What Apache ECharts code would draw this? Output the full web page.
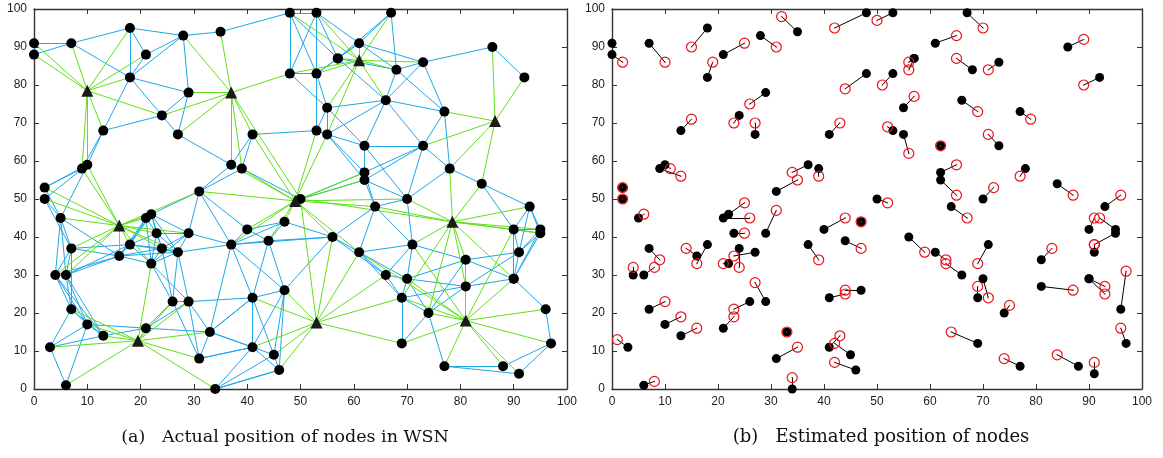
<!DOCTYPE html>
<html><head><meta charset="utf-8">
<script src="https://cdn.jsdelivr.net/npm/echarts@6/dist/echarts.min.js"></script>
<style>html,body{margin:0;padding:0;background:#fff}#c{width:1163px;height:458px}</style>
</head><body><div id="c"></div>
<script>
// Unknown (non-anchor) nodes, actual positions
const nodes = [
 [0,91],[0,88],[7,91],[18,95],[21,88],[18,82],[28,93],[35,94],[29,78],[24,72],
 [13,68],[27,67],[41,67],[9,58],[10,59],[37,59],[39,58],[2,53],[2,50],[31,52],
 [48,99],[53,99],[67,99],[61,91],[57,87],[68,84],[73,86],[86,90],[92,82],[48,83],
 [53,83],[55,74],[66,76],[77,73],[53,68],[55,67],[62,64],[73,64],[62,57],[62,55],
 [78,58],[84,54],[70,50],[64,48],[93,48],[50,50],[5,45],[21,45],[22,46],[23,41],
 [29,41],[18,38],[24,37],[27,36],[7,37],[16,35],[22,33],[4,30],[6,30],[7,21],
 [26,23],[29,23],[10,17],[21,16],[13,14],[33,15],[3,11],[6,1],[31,8],[34,0],
 [37,38],[40,42],[44,39],[47,44],[41,24],[47,26],[41,11],[45,9],[46,5],[90,42],
 [95,42],[95,41],[56,40],[71,38],[61,36],[91,36],[81,34],[66,30],[70,29],[90,29],
 [81,27],[69,24],[96,21],[74,20],[97,12],[69,12],[77,6],[88,6],[91,4],[57,87],
 [90,29]
];
// Estimated positions (same order as nodes; null = not shown)
const estimates = [
 null,[2,86],[10,86],[15,90],[25,91],[19,86],[31,90],[32,98],[26,75],[23,70],
 [15,71],[27,70],[43,70],[13,56],[11,58],[34,57],[39,56],[2,53],[2,50],[35,55],
 [42,95],[50,97],[70,95],[65,93],[56,86],[65,87],[71,84],[89,92],[89,80],[44,79],
 [51,80],[57,77],[69,73],[79,71],[52,69],[56,62],[62,64],[71,67],[65,59],[65,51],
 [77,56],[87,51],[72,53],[67,45],[96,51],[52,49],[6,46],[26,45],[25,49],[25,41],
 [31,47],[16,33],[24,32],[23,35],[9,34],[14,37],[21,33],[4,32],[8,32],[10,23],
 [23,21],[27,28],[13,19],[23,19],[16,16],[33,15],[1,13],[8,2],[35,11],[34,3],
 [39,34],[44,45],[47,37],[47,44],[44,25],[44,26],[43,14],[42,12],[42,7],[91,45],
 [92,45],[91,38],[59,36],[69,33],[63,34],[91,38],[83,37],[63,33],[71,24],[93,27],
 [87,26],[69,27],[97,31],[75,22],[96,16],[64,15],[74,8],[84,9],[91,7],[56,84],
 [93,25]
];
// Anchor nodes
const anchors = [[10,78.5],[37,78],[61,86.5],[86.5,70.5],[49,49.5],[16,43],[78.5,44],[19.5,12.7],[53,17.5],[81,18]];
// Node-node links (indices into nodes)
const blueEdges = [
 [0,1],[0,2],[1,2],[2,3],[2,5],[3,5],[3,4],[4,5],[4,6],[5,6],[3,6],[6,7],[6,8],[5,8],[5,9],[5,10],[8,9],[8,11],[9,10],[9,11],
 [10,13],[10,14],[11,15],[13,17],[14,17],[14,18],[13,14],[12,15],[12,16],[12,34],[15,16],[15,19],[16,19],[7,20],
 [20,21],[20,29],[20,30],[21,29],[21,30],[29,30],[21,23],[21,24],[20,24],[22,23],[22,24],[22,25],[23,24],[23,25],[23,26],[23,30],
 [24,30],[24,25],[29,31],[30,31],[30,34],[31,32],[31,35],[31,34],[31,36],[34,35],[35,36],[35,38],[35,39],[35,32],[36,38],[36,37],
 [32,36],[32,33],[32,37],[32,25],[32,26],[32,24],[25,26],[25,33],[26,27],[26,33],[27,28],[33,37],[33,40],[37,38],[37,39],[37,40],
 [37,42],[36,42],[38,39],[38,45],[39,45],[38,43],[39,43],[39,42],[40,41],[40,42],[41,44],[42,43],[16,45],
 [41,79],[44,79],[44,80],[44,81],[44,85],[79,80],[79,81],[79,89],[79,85],[80,85],[81,85],[81,89],[80,89],[85,89],[85,86],[89,86],
 [89,90],[89,92],[92,94],[94,98],[94,97],[97,96],[98,96],[96,93],[95,93],[95,91],[93,91],[93,88],[93,86],[93,90],[83,86],[83,88],
 [83,87],[83,84],[42,83],[86,88],[90,91],[90,88],[90,85],[87,91],[87,88],[88,91],[84,87],[84,91],[84,88],[84,43],[82,43],[82,84],
 [82,87],[43,83],
 [17,46],[18,46],[14,46],[18,54],[46,54],[46,57],[46,58],[46,55],[54,51],[54,55],[54,58],[54,57],[54,59],[57,58],[57,55],[58,55],
 [58,51],[57,59],[57,62],[58,62],[58,59],[57,64],[58,64],[59,62],[59,66],[59,64],[62,63],[62,64],[62,66],[62,67],[63,65],[66,64],
 [66,67],[64,63],[63,60],[63,61],[60,61],[60,56],[60,53],[60,52],[60,68],[61,53],[61,68],[61,65],[61,74],[61,56],[65,68],[65,76],
 [65,70],[65,74],[68,76],[69,76],[69,78],[69,77],
 [55,51],[55,56],[55,52],[55,47],[55,48],[55,53],[51,47],[51,48],[51,49],[51,52],[51,56],[51,53],[47,48],[47,49],[47,56],[48,49],
 [48,50],[48,53],[48,52],[48,19],[49,50],[49,52],[49,53],[49,56],[50,53],[50,52],[50,56],[50,70],[50,19],[52,53],[52,56],[53,56],
 [53,70],[19,70],[19,71],
 [70,71],[70,72],[70,82],[70,73],[70,74],[70,75],[71,73],[71,72],[72,73],[72,74],[72,75],[72,82],[73,82],[75,74],[75,82],[75,78],
 [75,77],[75,76],[74,76],[74,77],[74,65],[76,77],[76,78],[76,65],[76,68],[77,78],[78,69]
];
// Anchor-node links: one list of node indices per anchor
const greenLinks = [
 [0,1,2,3,4,5,9,10,13,14],
 [6,7,8,9,11,15,16,29,12,45],
 [20,21,22,23,24,25,26,29,30,32,31,35],
 [27,28,33,37,40,41],
 [45,15,16,12,34,35,38,39,43,42,73,71,72,70,82,84,19],
 [17,18,46,54,57,58,55,51,47,48,49,52,53,50,19,13,14,56],
 [43,44,79,80,81,83,86,90,89,93,91,40,41,42,45],
 [59,62,64,66,67,63,56,60,61,65,68,69],
 [75,74,76,77,78,84,87,91,95,82,45],
 [91,95,96,97,98,94,92,89,90,93,83,88,84,86,79]
];

const chart = echarts.init(document.getElementById('c'), null, {renderer:'canvas'});

function ax(g, pos, label){
  return {gridIndex:g, type:'value', min:0, max:100, interval:10, position:pos,
    axisLine:{show:true, onZero:false, lineStyle:{color:'#333', width:1.4}},
    axisTick:{show:true, inside:true, length:5, lineStyle:{color:'#333', width:1}},
    axisLabel:{show:label, color:'#222', fontSize:12, margin:7, fontFamily:'Liberation Sans, Arial, sans-serif'},
    splitLine:{show:false}};
}

const blueData = blueEdges.map(([a,b]) => ({coords:[nodes[a], nodes[b]]}));
const greenData = [];
greenLinks.forEach((list, ai) => list.forEach(n => greenData.push({coords:[anchors[ai], nodes[n]]})));
const estLines = [];
const estPts = [];
nodes.forEach((p, i) => {
  const e = estimates[i];
  if (!e) return;
  estPts.push(e);
  if (e[0] !== p[0] || e[1] !== p[1]) estLines.push({coords:[p, e]});
});

chart.setOption({
  animation:false,
  backgroundColor:'#fff',
  grid:[
    {left:34, right:596, top:9, bottom:69},
    {left:612, right:21, top:9, bottom:69}
  ],
  xAxis:[ax(0,'bottom',true), ax(0,'top',false), ax(1,'bottom',true), ax(1,'top',false)],
  yAxis:[ax(0,'left',true), ax(0,'right',false), ax(1,'left',true), ax(1,'right',false)],
  graphic:[
    {type:'text', x:285, y:437, style:{text:'(a)   Actual position of nodes in WSN', font:'17.5px "DejaVu Serif", serif', fill:'#111', textAlign:'center', textVerticalAlign:'middle'}},
    {type:'text', x:881, y:437, style:{text:'(b)   Estimated position of nodes', font:'18px "DejaVu Serif", serif', fill:'#111', textAlign:'center', textVerticalAlign:'middle'}}
  ],
  series:[
    {type:'lines', coordinateSystem:'cartesian2d', xAxisIndex:0, yAxisIndex:0, data:blueData, silent:true,
     lineStyle:{color:'#1ea8e8', width:1, opacity:1}, z:1},
    {type:'lines', coordinateSystem:'cartesian2d', xAxisIndex:0, yAxisIndex:0, data:greenData, silent:true,
     lineStyle:{color:'#5fe01a', width:1, opacity:1}, z:2},
    {type:'scatter', xAxisIndex:0, yAxisIndex:0, data:nodes, symbol:'circle', symbolSize:10, clip:false, silent:true,
     itemStyle:{color:'#000', opacity:1}, z:3},
    {type:'scatter', xAxisIndex:0, yAxisIndex:0, data:anchors, symbol:'triangle', symbolSize:12, clip:false, silent:true,
     itemStyle:{color:'#1a1a1a', opacity:1}, z:4},
    {type:'lines', coordinateSystem:'cartesian2d', xAxisIndex:2, yAxisIndex:2, data:estLines, silent:true,
     lineStyle:{color:'#000', width:1, opacity:1}, z:1},
    {type:'scatter', xAxisIndex:2, yAxisIndex:2, data:nodes, symbol:'circle', symbolSize:9, clip:false, silent:true,
     itemStyle:{color:'#000', opacity:1}, z:2},
    {type:'scatter', xAxisIndex:2, yAxisIndex:2, data:estPts, symbol:'circle', symbolSize:10, clip:false, silent:true,
     itemStyle:{color:'rgba(0,0,0,0)', borderColor:'#e8141c', borderWidth:1.2, opacity:1}, z:3},
    {type:'scatter', xAxisIndex:2, yAxisIndex:2, data:estPts, symbol:'circle', symbolSize:1.5, clip:false, silent:true,
     itemStyle:{color:'#e8141c', opacity:1}, z:4}
  ]
});
</script></body></html>
